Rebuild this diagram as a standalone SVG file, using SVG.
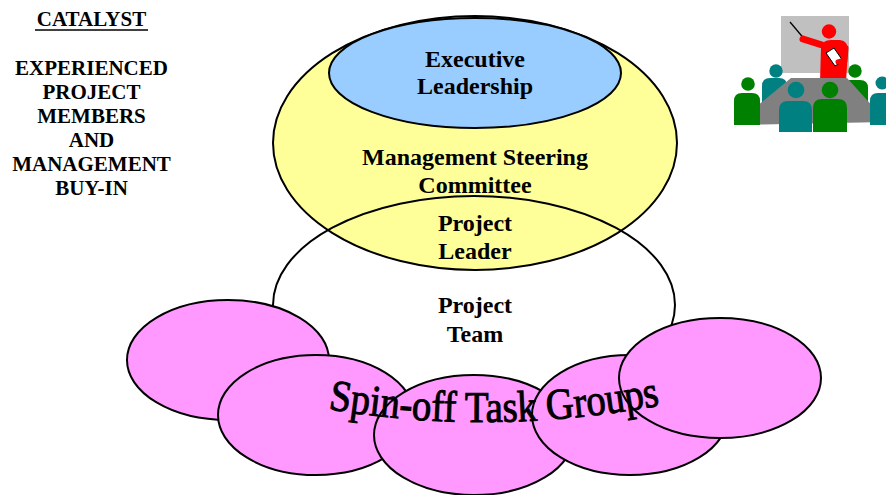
<svg xmlns="http://www.w3.org/2000/svg" width="886" height="495" viewBox="0 0 886 495">
  <style>
    .lbl { font-family: "Liberation Serif", "Times New Roman", serif; font-weight: bold; font-size: 24px; text-anchor: middle; fill: #000; }
    .side { font-family: "Liberation Serif", "Times New Roman", serif; font-weight: bold; font-size: 21px; text-anchor: middle; fill: #000; }
    .ring { stroke: #000; stroke-width: 2; }
    .pink { fill: #FF99FF; stroke: #000; stroke-width: 2; }
    .wordart { font-family: "Liberation Serif", "Times New Roman", serif; font-size: 44px; fill: #000; stroke: #000; stroke-width: 1; }
    .g { fill: #008000; }
    .t { fill: #008080; }
  </style>
  <defs>
    <path id="arc" d="M 328 409 Q 490 437 662 405"/>
  </defs>
  <rect width="886" height="495" fill="#fff"/>

  <!-- left caption -->
  <g id="catalyst">
    <text class="side" x="91.5" y="26">CATALYST</text>
    <line x1="35" y1="30" x2="148" y2="30" stroke="#000" stroke-width="1.6"/>
    <text class="side" x="91.5" y="75">EXPERIENCED</text>
    <text class="side" x="91.5" y="99">PROJECT</text>
    <text class="side" x="91.5" y="123">MEMBERS</text>
    <text class="side" x="91.5" y="147">AND</text>
    <text class="side" x="91.5" y="171">MANAGEMENT</text>
    <text class="side" x="91.5" y="195">BUY-IN</text>
  </g>

  <!-- nested ellipses -->
  <g id="steering">
    <ellipse class="ring" cx="475" cy="143" rx="202" ry="127" fill="#FFFF99"/>
  </g>
  <g id="executive">
    <ellipse class="ring" cx="475" cy="73" rx="146" ry="55" fill="#99CCFF"/>
    <text class="lbl" x="475" y="67">Executive</text>
    <text class="lbl" x="475" y="94">Leadership</text>
  </g>
  <text class="lbl" x="475" y="165">Management Steering</text>
  <text class="lbl" x="475" y="193">Committee</text>
  <g id="team">
    <ellipse class="ring" cx="474" cy="305" rx="201" ry="109" fill="none"/>
    <text class="lbl" x="475" y="313">Project</text>
    <text class="lbl" x="475" y="342">Team</text>
  </g>
  <g id="leader">
    <text class="lbl" x="475" y="231">Project</text>
    <text class="lbl" x="475" y="259">Leader</text>
  </g>

  <!-- spin-off task groups -->
  <g id="task-groups">
    <ellipse class="pink" cx="228" cy="360" rx="101" ry="60"/>
    <ellipse class="pink" cx="316" cy="415" rx="98" ry="60"/>
    <ellipse class="pink" cx="474" cy="435" rx="100" ry="60"/>
    <ellipse class="pink" cx="630" cy="415" rx="98" ry="60"/>
    <ellipse class="pink" cx="720" cy="378" rx="101" ry="60"/>
    <text class="wordart"><textPath href="#arc" textLength="334" lengthAdjust="spacingAndGlyphs">Spin-off Task Groups</textPath></text>
  </g>

  <!-- meeting clip art -->
  <g id="meeting">
    <rect x="781" y="16" width="68" height="57" fill="#C0C0C0"/>
    <line x1="790" y1="22" x2="806" y2="41" stroke="#000" stroke-width="1.3"/>
    <!-- back row -->
    <circle class="t" cx="776" cy="71" r="6.7"/>
    <path class="t" d="M762 106 L762 86 Q762 78 770 78 L779 78 Q787 78 787 86 L787 106 Z"/>
    <!-- presenter -->
    <circle cx="829" cy="31.5" r="7.2" fill="#FF0000"/>
    <path d="M820 82 L821 48 Q822 40 831 40 L840 40 Q848 41 848 50 L846 82 Z" fill="#FF0000"/>
    <line x1="803" y1="39" x2="822" y2="45" stroke="#FF0000" stroke-width="7" stroke-linecap="round"/>
    <polygon points="826,53 834,48 843,61 835,66" fill="#fff" stroke="#000" stroke-width="1"/>
    <path d="M846 48 L845 60 L838 62" fill="none" stroke="#FF0000" stroke-width="5" stroke-linecap="round"/>
    <circle class="g" cx="855" cy="71" r="6.7"/>
    <path class="g" d="M842 106 L842 88 Q842 80 850 80 L860 80 Q868 80 868 88 L868 106 Z"/>
    <!-- table -->
    <polygon points="734,125 791,78 847,78 887,122" fill="#808080"/>
    <!-- side and front seats -->
    <circle class="g" cx="748" cy="84" r="6.8"/>
    <path class="g" d="M734 125 L734 101 Q734 93 742 93 L752 93 Q760 93 760 101 L760 125 Z"/>
    <circle class="t" cx="882" cy="83" r="6.5"/>
    <path class="t" d="M870 125 L870 101 Q870 93 878 93 L886 93 L886 125 Z"/>
    <circle class="t" cx="796" cy="90" r="8.3"/>
    <path class="t" d="M779 132 L779 110 Q779 101 788 101 L803 101 Q812 101 812 110 L812 132 Z"/>
    <circle class="g" cx="830" cy="90" r="8.3"/>
    <path class="g" d="M813 132 L813 108 Q813 99 822 99 L838 99 Q847 99 847 108 L847 132 Z"/>
  </g>
</svg>
